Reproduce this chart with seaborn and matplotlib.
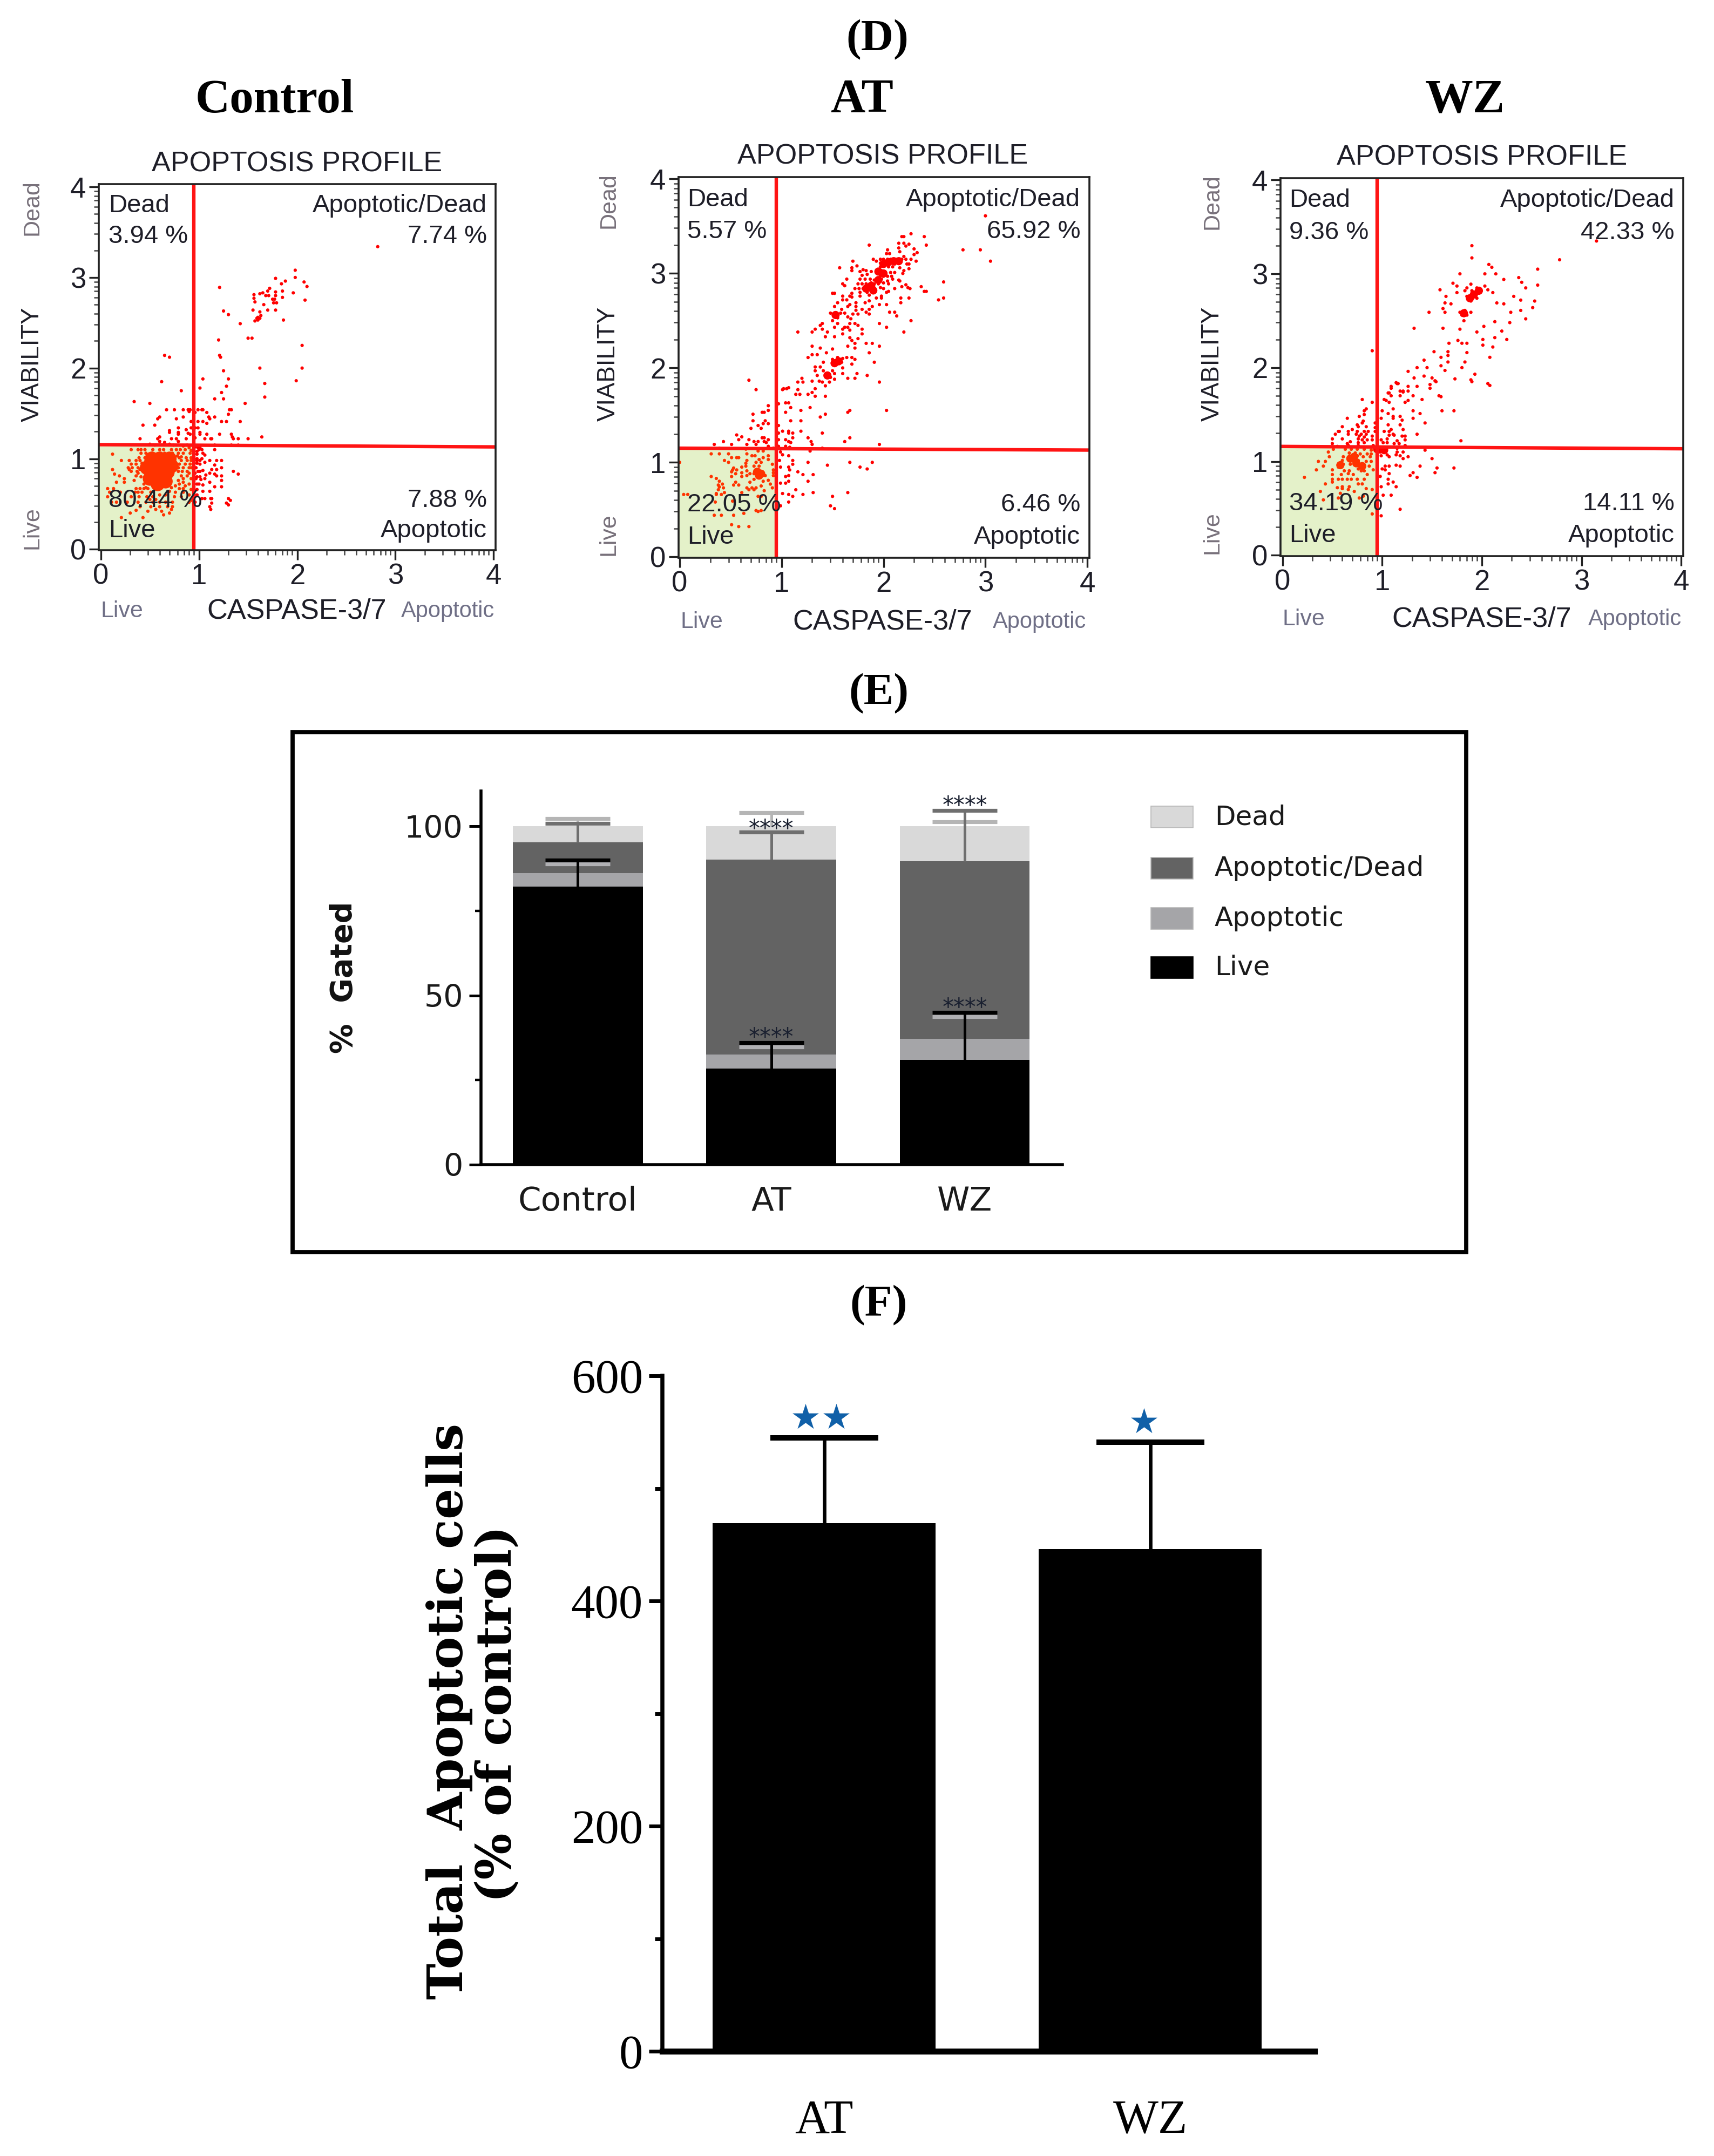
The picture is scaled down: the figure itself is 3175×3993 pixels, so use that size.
#!/usr/bin/env python
# -*- coding: utf-8 -*-

import numpy as np
import matplotlib
matplotlib.use('Agg')
import matplotlib.pyplot as plt
from matplotlib.patches import Rectangle
import seaborn as sns

W, H = 3175, 3993

# ==================== scatter data (caspase, viability) ====================
control_pts = [
    (2.82,3.34),(1.21,2.89),(1.25,2.63),(1.30,2.59),(1.42,2.49),(1.50,2.33),(1.54,2.33),(1.20,2.31),(1.22,2.12),
    (1.57,2.52),(1.59,2.55),(1.60,2.56),(1.62,2.55),(1.63,2.58),(1.60,2.53),(1.55,2.64),(1.62,2.62),(1.56,2.77),
    (1.56,2.81),(1.57,2.73),(1.62,2.82),(1.65,2.83),(1.68,2.80),(1.70,2.85),(1.71,2.80),(1.72,2.88),(1.75,2.76),
    (1.77,2.76),(1.78,2.80),(1.78,2.84),(1.79,2.72),(1.76,2.72),(1.78,2.99),(1.70,2.64),(1.66,2.70),(1.78,2.64),
    (1.85,2.78),(1.85,2.85),(1.84,2.93),(1.88,2.96),(1.86,2.53),(1.96,2.83),(1.98,3.08),(1.98,3.00),(2.07,2.95),
    (2.08,2.75),(2.10,2.90),(2.05,2.25),(2.05,2.00),(1.99,1.86),
    (0.65,2.14),(0.70,2.12),(1.21,2.14),(1.62,2.00),(1.25,1.97),(0.62,1.85),(1.04,1.88),(1.30,1.88),(1.67,1.83),
    (1.28,1.80),(1.01,1.78),(0.82,1.75),(1.23,1.73),(1.16,1.66),(1.25,1.66),(1.67,1.68),(0.34,1.63),(0.50,1.61),
    (1.47,1.61),(0.67,1.54),(0.75,1.54),(0.84,1.54),(0.89,1.54),(0.91,1.54),(0.99,1.54),(1.03,1.54),(1.04,1.54),
    (1.31,1.54),(1.33,1.54),(0.90,1.52),(0.96,1.51),(1.08,1.51),(1.30,1.49),(0.60,1.46),(0.58,1.44),(0.77,1.44),
    (0.84,1.46),(1.10,1.46),(1.11,1.44),(1.16,1.46),(0.92,1.41),(0.99,1.41),(1.04,1.41),(1.08,1.39),(1.23,1.41),
    (1.28,1.41),(1.42,1.41),(0.43,1.37),(0.55,1.37),(0.79,1.34),(0.92,1.34),(0.96,1.34),(0.99,1.34),(0.70,1.31),
    (0.70,1.29),(0.79,1.29),(0.79,1.27),(0.87,1.32),(0.89,1.28),(0.91,1.27),(1.01,1.29),(1.01,1.27),(1.08,1.27),
    (1.21,1.27),(1.33,1.27),(1.34,1.24),(1.64,1.24),(0.60,1.24),(0.58,1.22),(0.40,1.22),(0.72,1.22),(0.77,1.22),
    (0.87,1.22),(0.96,1.23),(1.06,1.22),(1.12,1.22),(1.13,1.22),(1.35,1.22),(1.40,1.22),(1.50,1.22),(0.60,1.19),
    (0.65,1.18),(0.79,1.19),(1.16,1.15),(1.33,1.15),(1.40,1.15),(1.16,1.10),(0.99,1.12),(1.01,1.12),(0.96,1.13),
    (1.04,1.06),(1.06,1.04),(0.98,1.05),(1.11,0.98),(1.18,0.98),(1.23,0.98),(1.16,0.93),(1.23,0.90),(1.18,0.88),
    (1.13,0.88),(1.11,0.84),(1.16,0.83),(1.18,0.81),(1.35,0.86),(1.40,0.83),(1.23,0.81),(1.23,0.76),(1.23,0.69),
    (1.16,0.69),(1.11,0.74),(1.04,0.71),(1.04,0.64),(1.11,0.64),(1.06,0.56),(1.13,0.56),(1.30,0.56),(1.28,0.51),
    (1.13,0.51),(1.11,0.47),(0.98,1.00),(0.98,0.98),(0.98,0.95),(1.01,0.98),(1.03,1.00),(1.06,0.96),(1.01,0.94),
    (1.04,0.87),(1.01,0.86),(1.07,0.82),(1.06,0.78),(1.01,0.80),(0.97,0.78),(0.98,0.80),(1.02,0.77),
    (0.31,1.10),(0.12,1.05),(0.21,0.98),(0.29,0.98),(0.12,0.88),(0.14,0.83),(0.19,0.81),(0.24,0.78),(0.16,0.74),
    (0.24,0.74),(0.29,0.88),
    (0.38,1.10),(0.41,1.10),(0.45,1.10),(0.53,1.10),(0.60,1.10),(0.64,1.10),(0.72,1.10),(0.77,1.10),(0.81,1.10),(0.86,1.10),
    (0.41,1.06),(0.46,1.06),(0.52,1.06),(0.61,1.06),(0.65,1.06),(0.73,1.06),(0.79,1.06),(0.84,1.06),(0.91,1.06),
    (0.39,1.01),(0.45,1.01),(0.80,1.01),(0.87,1.01),(0.92,1.01),(0.36,0.98),(0.40,0.98),(0.46,0.98),(0.82,0.98),(0.88,0.98),
    (0.31,0.94),(0.36,0.94),(0.80,0.94),(0.86,0.94),(0.91,0.94),(0.28,0.90),(0.32,0.90),(0.38,0.90),(0.46,0.90),(0.79,0.90),
    (0.84,0.90),(0.90,0.90),(0.31,0.86),(0.37,0.86),(0.43,0.86),(0.79,0.86),(0.83,0.86),(0.88,0.86),(0.36,0.81),(0.82,0.81),
    (0.88,0.81),(0.34,0.76),(0.79,0.76),(0.07,0.67),(0.13,0.67),(0.36,0.67),(0.40,0.67),(0.44,0.67),(0.48,0.67),(0.80,0.67),
    (0.84,0.67),(0.09,0.63),(0.20,0.63),(0.35,0.63),(0.38,0.63),(0.42,0.63),(0.51,0.63),(0.76,0.63),(0.84,0.63),(0.07,0.58),
    (0.31,0.58),(0.39,0.58),(0.47,0.58),(0.53,0.58),(0.75,0.58),(0.82,0.58),(0.11,0.52),(0.16,0.52),(0.27,0.52),(0.38,0.52),
    (0.46,0.52),(0.53,0.52),(0.60,0.52),(0.73,0.52),(0.90,0.52),(0.40,0.47),(0.51,0.47),(0.60,0.47),(0.73,0.47),
    (0.43,0.35),(0.64,0.38),(0.21,0.35),(0.72,0.44),(1.12,0.44),(1.30,0.49),(1.32,0.54),(1.03,0.56),(1.12,0.56),
    (0.48,1.03),(0.50,1.00),(0.55,1.03),(0.42,0.95),(0.44,0.92),(0.40,0.88),(0.38,0.84),(0.41,0.80),(0.44,0.72),(0.46,0.68),
    (0.72,0.68),(0.76,0.70),(0.80,0.72),(0.84,0.74),(0.84,0.78),(0.86,0.70),(0.74,1.03),(0.78,1.03),(0.82,1.02),(0.70,0.64),
    (0.66,0.60),(0.60,0.60),(0.56,0.55),(0.50,0.55),(0.66,0.52),(0.68,0.47),(0.56,0.44),(0.48,0.42),(0.62,0.42),(0.70,0.40),
    (0.36,0.43),(0.30,0.40),(0.92,1.09),(0.90,1.12),(0.94,1.10),(0.92,0.98),(0.92,0.90),(0.90,0.84),(0.92,0.78),(0.90,0.72),
    (0.92,0.66),(0.90,0.60),(0.92,0.54),(0.98,0.72),(0.98,0.66),(0.98,0.60),(0.96,0.52),(0.98,1.08),(1.00,1.10),(1.03,1.10),
    (0.97,0.90),(0.99,0.86),(0.96,0.84),(1.00,0.72),(0.84,1.14),(0.88,1.15),(0.70,1.16),(0.74,1.15),(0.55,1.15),(0.50,1.16),
]
# the solid centre of the Control cloud
control_core = [
    (0.60,0.88),(0.52,0.85),(0.68,0.85),(0.55,0.95),(0.65,0.95),(0.60,1.00),(0.50,0.78),(0.66,0.75),(0.72,0.92),
    (0.47,0.90),(0.60,0.76),(0.70,1.00),(0.52,1.00),(0.58,0.72),
]

at_pts = [
    (2.27,3.42),(2.18,3.39),(2.20,3.39),(2.40,3.39),(2.42,3.30),(1.86,3.30),(2.15,3.32),(2.20,3.32),(2.25,3.31),(2.15,3.27),
    (2.22,3.29),(2.16,3.23),(2.30,3.26),(2.33,3.22),(2.30,3.20),(2.78,3.25),(2.95,3.25),(3.05,3.13),(3.00,3.61),(2.04,3.25),
    (2.03,3.21),(2.06,3.21),(1.90,3.15),(1.93,3.13),(1.97,3.15),(2.00,3.15),(2.04,3.15),(2.07,3.15),(2.12,3.15),(2.18,3.15),
    (2.20,3.18),(2.22,3.15),(2.27,3.15),(2.32,3.13),(1.97,3.11),(2.00,3.11),(2.04,3.11),(2.07,3.11),(2.11,3.10),(2.14,3.11),
    (2.17,3.12),(2.23,3.10),(2.25,3.10),(1.97,3.07),(2.05,3.07),(2.09,3.07),(2.16,3.06),(2.25,3.05),(1.70,3.13),(1.74,3.08),
    (1.57,3.06),(1.69,3.06),(1.69,3.03),(1.77,3.02),(1.80,3.04),(1.83,3.03),(1.88,3.02),(1.95,3.03),(1.98,3.03),(2.02,3.01),
    (2.07,3.01),(2.11,3.01),(2.20,3.03),(2.19,3.00),(1.79,2.98),(1.84,2.99),(1.97,2.98),(2.00,2.97),(2.04,2.97),(2.08,2.97),
    (1.77,2.94),(1.82,2.94),(1.87,2.94),(1.91,2.93),(1.95,2.93),(1.98,2.94),(2.04,2.92),(2.09,2.94),(2.15,2.93),(2.16,2.92),
    (1.64,2.94),(1.60,2.89),(1.62,2.87),(1.75,2.89),(1.79,2.89),(1.83,2.89),(1.88,2.90),(1.91,2.89),(1.95,2.89),(2.00,2.90),
    (2.05,2.89),(1.72,2.84),(1.76,2.84),(1.80,2.84),(1.84,2.85),(1.88,2.85),(1.91,2.84),(1.97,2.85),(2.00,2.84),(2.11,2.84),
    (2.18,2.86),(2.22,2.88),(2.24,2.85),(2.26,2.84),(2.37,2.86),(2.59,2.91),(1.77,2.80),(1.77,2.76),(1.84,2.80),(1.88,2.81),
    (1.86,2.77),(1.91,2.83),(2.03,2.80),(2.05,2.81),(2.40,2.81),(2.42,2.81),(1.50,2.79),(1.52,2.79),(1.69,2.79),(1.67,2.76),
    (1.69,2.75),(1.60,2.76),(1.93,2.74),(1.98,2.76),(1.98,2.74),(2.17,2.74),(2.25,2.74),(2.59,2.74),(2.54,2.72),(2.17,2.69),
    (1.60,2.72),(1.64,2.72),(1.55,2.69),(1.73,2.69),(1.82,2.69),(1.86,2.71),(1.96,2.67),(2.03,2.67),(1.52,2.65),(1.67,2.67),
    (1.65,2.65),(1.73,2.65),(1.73,2.61),(1.89,2.65),(1.86,2.62),(1.79,2.62),(1.48,2.58),(1.51,2.57),(1.54,2.56),(1.58,2.58),
    (1.55,2.53),(1.59,2.62),(1.62,2.58),(1.65,2.54),(1.68,2.52),(1.70,2.57),(1.75,2.57),(1.83,2.59),(1.86,2.57),(2.06,2.59),
    (2.11,2.59),(2.13,2.55),(1.50,2.50),(1.55,2.47),(1.67,2.47),(1.72,2.47),(1.75,2.45),(1.96,2.47),(2.27,2.50),(2.03,2.43),
    (1.40,2.47),(1.38,2.45),(1.52,2.43),(1.40,2.41),(1.33,2.41),(1.30,2.38),(1.16,2.38),(1.45,2.38),(1.43,2.33),(1.52,2.33),
    (1.62,2.43),(1.60,2.41),(1.65,2.43),(1.67,2.40),(1.60,2.36),(1.79,2.41),(1.79,2.36),(1.67,2.32),(1.69,2.29),(1.75,2.31),
    (1.72,2.26),(1.83,2.26),(1.89,2.26),(1.96,2.23),(1.65,2.23),(2.20,2.38),(1.30,2.23),(1.38,2.21),(1.50,2.20),(1.72,2.21),
    (1.44,2.16),(1.86,2.16),(1.30,2.14),(1.35,2.14),(1.26,2.11),(1.50,2.09),(1.55,2.11),(1.60,2.10),(1.64,2.11),(1.69,2.11),
    (1.72,2.09),(1.41,2.06),(1.91,2.06),(1.52,2.05),(1.56,2.05),(1.59,2.06),(1.60,2.00),(1.69,2.04),(1.33,2.01),(1.38,2.01),
    (1.33,1.97),(1.41,1.97),(1.50,1.97),(1.44,1.94),(1.46,1.94),(1.52,1.94),(1.60,1.94),(1.35,1.92),(1.74,1.94),(1.84,1.92),
    (1.45,1.91),(1.48,1.90),(1.52,1.88),(1.65,1.89),(1.72,1.89),(1.20,1.89),(1.96,1.85),(1.16,1.85),(1.21,1.85),(1.30,1.86),
    (1.37,1.86),(1.40,1.85),(1.43,1.81),(1.47,1.85),(1.33,1.78),(1.16,1.77),(1.05,1.78),(1.02,1.78),(1.30,1.74),(1.14,1.72),
    (1.18,1.72),(1.26,1.72),(1.43,1.70),(1.33,1.70),
    (0.68,1.87),(0.75,1.77),(1.01,1.77),(1.07,1.79),(0.97,1.62),(0.87,1.60),(1.09,1.58),(1.28,1.58),(0.87,1.55),(1.19,1.55),
    (1.04,1.63),(1.07,1.63),(1.04,1.53),(0.81,1.53),(0.83,1.53),(0.72,1.51),(1.67,1.55),(1.65,1.53),(2.03,1.55),(1.43,1.51),
    (1.38,1.48),(0.72,1.44),(0.84,1.44),(1.09,1.44),(1.19,1.44),(0.82,1.41),(0.87,1.41),(0.77,1.39),(0.97,1.39),(0.80,1.36),
    (0.70,1.36),(1.01,1.33),(1.07,1.33),(1.19,1.33),(1.07,1.31),(0.97,1.31),(1.11,1.31),(1.40,1.31),(0.56,1.29),(0.61,1.27),
    (0.58,1.24),(1.11,1.26),(1.26,1.26),(1.67,1.26),(0.81,1.26),(0.83,1.26),(0.68,1.24),(0.87,1.24),(0.97,1.24),(0.83,1.22),
    (0.85,1.21),(1.04,1.24),(1.07,1.22),(1.09,1.21),(1.62,1.22),(1.29,1.22),(0.43,1.22),(0.73,1.22),(0.77,1.22),(1.30,1.19),
    (0.34,1.19),(0.51,1.19),(0.66,1.19),(0.75,1.19),(0.87,1.17),(0.92,1.15),(0.97,1.17),(1.04,1.17),(1.08,1.16),(1.40,1.15),
    (1.96,1.19),(0.39,1.15),(0.65,1.14),(1.28,1.12),(0.77,1.12),(0.82,1.12),(0.31,1.09),(0.39,1.09),(0.48,1.09),(0.66,1.09),
    (0.71,1.07),(0.74,1.07),(0.99,1.11),(1.01,1.08),(1.07,1.07),(0.87,1.07),(0.51,1.05),(0.56,1.05),(0.58,1.05),(0.82,1.05),
    (0.78,1.03),(0.87,1.03),(0.44,1.02),(0.66,1.02),(0.98,1.02),(1.11,1.02),(0.00,1.00),(0.48,1.00),(1.26,1.00),(1.67,1.00),
    (1.89,1.00),(0.65,0.99),(0.75,1.00),(0.80,1.00),(0.91,0.98),(1.11,0.98),(1.45,0.97),(0.65,0.96),(0.73,0.96),(0.78,0.96),
    (0.99,0.95),(1.07,0.95),(1.77,0.95),(1.84,0.93),(0.53,0.94),(0.61,0.95),(0.52,0.92),(0.56,0.92),(0.66,0.91),(0.78,0.92),
    (0.92,0.92),(1.08,0.92),(1.16,0.90),(0.51,0.90),(0.55,0.88),(0.61,0.89),(0.69,0.88),(0.73,0.88),(0.76,0.88),(0.80,0.86),
    (0.76,0.85),(0.84,0.86),(0.92,0.89),(1.21,0.87),(1.31,0.87),(0.31,0.85),(0.51,0.85),(0.61,0.85),(0.66,0.86),(1.07,0.86),
    (1.04,0.85),(0.92,0.86),(0.36,0.83),(0.73,0.82),(0.82,0.80),(0.87,0.81),(0.89,0.77),(1.26,0.80),(1.07,0.80),(0.39,0.80),
    (0.55,0.79),(0.69,0.79),(0.99,0.78),(1.04,0.78),(0.38,0.76),(0.42,0.77),(0.53,0.76),(0.58,0.76),(0.80,0.75),(0.43,0.73),
    (0.39,0.74),(0.66,0.73),(0.71,0.73),(0.75,0.73),(0.91,0.73),(1.14,0.71),(0.38,0.71),(0.68,0.71),(0.73,0.71),(0.83,0.70),
    (1.31,0.68),(1.65,0.68),(0.36,0.67),(0.44,0.68),(0.61,0.68),(1.01,0.67),(1.21,0.66),(0.04,0.66),(0.08,0.66),(0.36,0.66),
    (0.41,0.66),(1.07,0.66),(1.50,0.64),(1.11,0.64),(0.77,0.64),(0.80,0.64),(1.07,0.58),(0.35,0.58),(0.52,0.59),(1.48,0.54),
    (1.52,0.51),(0.99,0.54),(0.77,0.48),(0.75,0.49),(0.80,0.49),(0.63,0.46),(0.34,0.44),(0.41,0.44),(0.53,0.44),(0.51,0.34),
    (0.58,0.32),(0.68,0.32),
]
at_core = [
    (2.05,3.12),(2.10,3.13),(2.00,3.10),(2.15,3.13),(1.95,3.02),(2.00,3.00),(1.88,2.87),(1.95,2.93),(1.83,2.84),(1.90,2.82),
    (1.56,2.07),(1.52,2.05),(1.53,2.56),(1.45,1.92),(0.78,0.86),(0.80,0.88),(0.76,0.90),
]

wz_pts = [
    (3.15,3.35),(1.90,3.30),(1.90,3.17),(2.78,3.15),(2.56,3.05),(2.07,3.10),(2.10,3.07),(2.14,3.00),(2.03,3.00),(1.78,3.00),
    (2.37,2.96),(2.40,2.91),(2.22,2.94),(2.44,2.85),(2.56,2.88),(1.71,2.90),(1.75,2.87),(1.58,2.83),(1.85,2.85),(1.89,2.89),
    (1.95,2.85),(2.03,2.87),(2.06,2.83),(2.11,2.80),(1.83,2.82),(1.90,2.82),(1.97,2.80),(1.85,2.76),(1.92,2.76),(1.95,2.74),
    (1.89,2.71),(1.64,2.76),(1.75,2.80),(2.32,2.76),(2.39,2.72),(2.15,2.69),(2.22,2.68),(2.53,2.71),(1.63,2.69),(1.69,2.68),
    (1.61,2.63),(2.51,2.64),(2.39,2.61),(1.47,2.59),(1.63,2.59),(1.78,2.59),(1.83,2.61),(1.89,2.59),(1.80,2.56),(1.85,2.56),
    (1.82,2.50),(2.29,2.59),(2.13,2.49),(2.44,2.52),(2.28,2.48),(1.32,2.42),(1.61,2.42),(1.78,2.41),(2.02,2.44),(2.20,2.39),
    (1.95,2.38),(2.13,2.32),(2.25,2.30),(1.67,2.26),(1.76,2.29),(1.80,2.26),(1.85,2.26),(2.01,2.30),(2.01,2.24),(2.11,2.22),
    (1.52,2.17),(1.66,2.17),(1.85,2.16),(2.08,2.11),(1.59,2.11),(1.42,2.08),(1.66,2.13),(1.66,2.06),(1.83,2.06),(1.35,2.00),
    (1.45,2.00),(1.59,2.02),(1.80,2.00),(1.63,1.97),(1.26,1.96),(1.42,1.91),(1.32,1.89),(1.50,1.89),(1.93,1.93),(1.73,1.88),
    (1.54,1.85),(1.90,1.85),(2.08,1.81),(1.15,1.83),(1.09,1.78),(1.21,1.74),(1.59,1.69),(1.26,1.65),(1.07,1.73),(0.90,2.18),
    (2.06,1.83),(1.89,1.87),(1.09,1.80),(1.14,1.84),(1.16,1.83),(1.26,1.80),(1.35,1.80),(1.48,1.82),(1.53,1.86),(1.48,1.78),
    (1.18,1.75),(1.21,1.75),(1.26,1.75),(1.06,1.73),(1.09,1.70),(1.18,1.70),(1.31,1.70),(1.57,1.70),(0.80,1.66),(0.90,1.63),
    (1.02,1.66),(1.04,1.65),(1.07,1.63),(1.23,1.63),(1.40,1.66),(1.11,1.56),(0.84,1.56),(0.82,1.54),(1.00,1.54),(1.31,1.54),
    (1.60,1.54),(1.72,1.54),(0.82,1.50),(1.06,1.51),(1.38,1.51),(0.77,1.48),(1.11,1.48),(1.18,1.48),(0.65,1.46),(0.99,1.46),
    (1.11,1.46),(1.31,1.46),(1.20,1.44),(0.81,1.43),(1.43,1.41),(0.93,1.41),(0.80,1.41),(1.06,1.39),(1.18,1.39),(0.75,1.39),
    (0.60,1.37),(0.76,1.37),(0.84,1.37),(0.93,1.36),(0.70,1.34),(1.09,1.34),(1.21,1.34),(0.56,1.32),(0.57,1.32),(0.66,1.32),
    (0.75,1.32),(0.82,1.32),(0.86,1.32),(0.93,1.32),(1.02,1.32),(1.07,1.32),(0.53,1.29),(0.66,1.29),(0.74,1.29),(0.79,1.29),
    (0.84,1.29),(1.11,1.29),(1.35,1.29),(0.77,1.27),(0.82,1.26),(0.90,1.27),(1.07,1.28),(1.12,1.28),(1.20,1.27),(1.23,1.27),
    (0.50,1.24),(0.60,1.24),(0.76,1.24),(0.80,1.23),(0.85,1.23),(0.90,1.23),(0.99,1.23),(1.05,1.24),(1.23,1.23),(1.79,1.22),
    (0.68,1.21),(0.65,1.19),(0.76,1.20),(0.82,1.20),(1.15,1.22),(1.01,1.20),(1.05,1.20),(1.12,1.19),(1.17,1.19),(1.23,1.17),
    (0.50,1.19),(0.55,1.16),(0.66,1.17),(0.76,1.17),(0.91,1.17),(1.01,1.15),(1.04,1.13),(1.15,1.14),(0.51,1.13),(0.63,1.13),
    (0.69,1.13),(0.75,1.13),(0.82,1.13),(0.89,1.12),(1.43,1.12),(0.98,1.10),(1.15,1.10),(1.21,1.10),(0.46,1.10),(0.67,1.09),
    (0.73,1.09),(0.78,1.08),(0.85,1.08),(0.89,1.08),(1.05,1.07),(1.14,1.07),(0.47,1.05),(0.61,1.05),(0.69,1.05),(0.75,1.06),
    (0.81,1.05),(0.88,1.05),(0.99,1.06),(1.07,1.05),(1.18,1.06),(1.26,1.05),(1.21,1.03),(1.50,1.03),(0.36,1.00),(0.43,1.00),
    (0.60,1.01),(0.71,1.01),(0.76,1.01),(0.84,1.00),(0.89,1.00),(0.41,0.95),(0.57,0.97),(0.61,0.97),(0.68,0.97),(0.75,0.96),
    (0.79,0.95),(0.87,0.95),(1.03,0.95),(1.07,0.95),(1.14,0.96),(1.18,0.95),(1.38,0.95),(0.56,0.94),(0.59,0.94),(0.76,0.92),
    (0.79,0.90),(0.82,0.90),(1.00,0.92),(1.03,0.91),(1.55,0.93),(1.72,0.93),(0.34,0.91),(0.50,0.91),(0.62,0.90),(0.67,0.90),
    (0.91,0.91),(1.31,0.88),(1.53,0.88),(1.07,0.87),(0.50,0.86),(0.59,0.86),(0.66,0.87),(0.71,0.86),(0.85,0.86),(1.28,0.85),
    (0.98,0.84),(0.22,0.83),(1.35,0.83),(0.50,0.81),(0.56,0.81),(0.60,0.81),(0.65,0.81),(0.69,0.81),(0.75,0.81),(0.82,0.81),
    (1.06,0.81),(0.50,0.78),(0.76,0.76),(0.80,0.76),(1.11,0.78),(0.43,0.76),(1.06,0.76),(0.67,0.73),(0.60,0.73),(0.55,0.72),
    (1.14,0.73),(0.99,0.73),(0.84,0.71),(0.90,0.70),(0.60,0.71),(0.66,0.70),(0.38,0.68),(0.72,0.68),(0.58,0.66),(1.01,0.64),
    (1.09,0.64),(0.77,0.61),(0.81,0.63),(0.41,0.59),(0.56,0.61),(1.18,0.49),(0.90,0.44),(0.99,0.42),
]
wz_core = [
    (1.92,2.78),(1.97,2.82),(1.88,2.74),(1.82,2.58),(0.74,0.98),(0.80,0.95),(0.72,1.05),(0.68,1.03),(0.58,0.96),(0.95,1.13),
    (1.02,1.12),
]

quad_text = {
    'Control': ['3.94 %', '7.74 %', '80.44 %', '7.88 %'],
    'AT': ['5.57 %', '65.92 %', '22.05 %', '6.46 %'],
    'WZ': ['9.36 %', '42.33 %', '34.19 %', '14.11 %'],
}
decade_ticks = [0.30, 0.48, 0.60, 0.70, 0.78, 0.85, 0.90, 0.95]

# ==================== panel E data ====================
groups = ['Control', 'AT', 'WZ']
live = [82.1, 28.4, 30.9]
apoptotic = [4.1, 4.2, 6.2]
apoptotic_dead = [9.1, 57.5, 52.5]
dead = [4.7, 9.9, 10.4]
live_cap = [90.0, 36.1, 45.0]
apoptotic_cap = [88.8, 34.8, 43.7]
apoptotic_dead_cap = [100.9, 98.2, 104.7]
dead_cap = [102.2, 104.0, 101.3]
stage_names = ['Dead', 'Apoptotic/Dead', 'Apoptotic', 'Live']
stage_colors = ['#d9d9d9', '#636363', '#a5a5a8', '#000000']

# ==================== panel F data ====================
f_groups = ['AT', 'WZ']
f_values = [469, 446]
f_caps = [545, 541]
f_star_x = [-0.057, 0.037, 0.981]
f_star_y = [563, 563, 559]

sns.set_theme(style='ticks')
plt.rcParams['font.family'] = ['Liberation Sans', 'DejaVu Sans']
INK = '#1e1e28'
SERIF = 'Liberation Serif'

fig = plt.figure(figsize=(W / 200, H / 200), dpi=200, facecolor='white')


def px_axes(left, top, right, bottom):
    return fig.add_axes([left / W, 1 - bottom / H, (right - left) / W, (bottom - top) / H])


def put(x, y, s, **kw):
    kw.setdefault('ha', 'center')
    kw.setdefault('va', 'center')
    fig.text(x / W, 1 - y / H, s, **kw)


def flow_panel(box, lims, pts, core, vline, hline, texts, t):
    ax = px_axes(*box)
    ax.set_xlim(*lims[0])
    ax.set_ylim(*lims[1])
    ax.add_patch(Rectangle((lims[0][0], lims[1][0]), vline - lims[0][0], hline[0] - lims[1][0],
                           facecolor='#e4f1c9', edgecolor='none', zorder=0))
    palette = {True: '#ff3300', False: '#ff0000'}
    for group, size in ((pts, 5), core):
        arr = np.array(group)
        gate = (arr[:, 0] < vline) & (arr[:, 1] < hline[0])
        sns.scatterplot(x=arr[:, 0], y=arr[:, 1], hue=gate, palette=palette, hue_order=[True, False],
                        s=size, linewidth=0, legend=False, ax=ax, zorder=2, clip_on=False)
    ax.axvline(vline, color='#ff1414', lw=2.3, zorder=3)
    ax.plot(lims[0], hline, color='#ff1414', lw=2.3, zorder=3)
    for sp in ax.spines.values():
        sp.set_linewidth(1.3)
        sp.set_color('#222222')
        sp.set_zorder(5)
    majors = [0, 1, 2, 3, 4]
    minors = [m + d for m in range(4) for d in decade_ticks]
    for axis in (ax.xaxis, ax.yaxis):
        axis.set_ticks(majors)
        axis.set_ticks(minors, minor=True)
    ax.tick_params(which='major', length=6.5, width=1.2, color='#222222', labelsize=19, labelcolor=INK, pad=2)
    ax.tick_params(which='minor', length=3.2, width=0.9, color='#444444')
    put(t['title'][0], t['title'][1], 'APOPTOSIS PROFILE', fontsize=18.8, color=INK)
    put(t['left'], t['rows'][0], 'Dead', ha='left', fontsize=17, color=INK)
    put(t['left'], t['rows'][1], texts[0], ha='left', fontsize=17, color=INK)
    put(t['right'], t['rows'][0], 'Apoptotic/Dead', ha='right', fontsize=17, color=INK)
    put(t['right'], t['rows'][1], texts[1], ha='right', fontsize=17, color=INK)
    put(t['left'], t['rows'][2], texts[2], ha='left', fontsize=17, color=INK)
    put(t['left'], t['rows'][3], 'Live', ha='left', fontsize=17, color=INK)
    put(t['right'], t['rows'][2], texts[3], ha='right', fontsize=17, color=INK)
    put(t['right'], t['rows'][3], 'Apoptotic', ha='right', fontsize=17, color=INK)
    put(t['title'][0], t['xlab'][1], 'CASPASE-3/7', fontsize=18.8, color=INK)
    put(t['xlab'][0], t['xlab'][1], 'Live', fontsize=15.5, color='#6f6f86')
    put(t['xlab'][2], t['xlab'][1], 'Apoptotic', fontsize=15, color='#6f6f86')
    put(t['ylab'][0], t['ylab'][1], 'VIABILITY', rotation=90, fontsize=16.4, color=INK)
    put(t['ylab'][0], t['ylab'][2], 'Dead', rotation=90, fontsize=15.5, color='#77707a')
    put(t['ylab'][0], t['ylab'][3], 'Live', rotation=90, fontsize=15.5, color='#77707a')
    return ax


# ==================== Panel D: three flow plots ====================
put(1625, 74, '(D)', fontsize=30, family=SERIF, fontweight='bold', color='black')
put(509, 186, 'Control', fontsize=32, family=SERIF, fontweight='bold', color='black')
put(1597, 186, 'AT', fontsize=32, family=SERIF, fontweight='bold', color='black')
put(2714, 186, 'WZ', fontsize=32, family=SERIF, fontweight='bold', color='black')

flow_panel((183, 341, 918, 1019), ((-0.02, 4.02), (-0.01, 4.03)), control_pts, (control_core, 90),
           0.95, (1.155, 1.13), quad_text['Control'],
           {'title': (550, 304), 'left': 201, 'right': 902, 'rows': (381, 438, 927, 983),
            'xlab': (226, 1132, 830), 'ylab': (60, 675, 385, 978)})
flow_panel((1257, 328, 2018, 1033), ((-0.01, 4.02), (-0.01, 4.02)), at_pts, (at_core, 30),
           0.95, (1.15, 1.13), quad_text['AT'],
           {'title': (1635, 290), 'left': 1273, 'right': 2001, 'rows': (370, 429, 935, 995),
            'xlab': (1300, 1152, 1926), 'ylab': (1127, 674, 372, 990)})
flow_panel((2372, 330, 3118, 1030), ((-0.02, 4.02), (-0.01, 4.02)), wz_pts, (wz_core, 30),
           0.948, (1.16, 1.135), quad_text['WZ'],
           {'title': (2745, 292), 'left': 2388, 'right': 3102, 'rows': (371, 431, 933, 992),
            'xlab': (2415, 1147, 3029), 'ylab': (2246, 674, 374, 987)})

# ==================== Panel E: stacked bars ====================
put(1628, 1285, '(E)', fontsize=30, family=SERIF, fontweight='bold', color='black')
fig.add_artist(Rectangle((542 / W, 1 - 2319 / H), (2716 - 542) / W, (2319 - 1356) / H,
                         transform=fig.transFigure, fill=False, edgecolor='black', linewidth=2.8))

ax_e = px_axes(891, 1465, 1968, 2157)
live_arr, apop_arr = np.array(live), np.array(apoptotic)
ad_arr, dead_arr = np.array(apoptotic_dead), np.array(dead)
stacks = [live_arr + apop_arr + ad_arr + dead_arr, live_arr + apop_arr + ad_arr, live_arr + apop_arr, live_arr]
for top, color in zip(stacks, stage_colors):
    sns.barplot(x=groups, y=top, color=color, saturation=1, width=0.672, linewidth=0, ax=ax_e, zorder=2)
ax_e.set_xlim(-0.5, 2.505)
ax_e.set_ylim(0, 110.4)

pos = np.arange(3)
bar_err = [
    (stacks[0], dead_cap, '#b5b5b5'),
    (stacks[1], apoptotic_dead_cap, '#6f6f6f'),
    (stacks[2], apoptotic_cap, '#b0b0b3'),
    (stacks[3], live_cap, '#000000'),
]
for top, cap, color in bar_err:
    ax_e.vlines(pos, top, cap, color=color, linewidth=1.8, zorder=4)
    ax_e.plot(pos, cap, linestyle='none', marker='_', markersize=43, markeredgewidth=2.6, color=color, zorder=4)

star_pos = [(1, 99.1), (1, 37.5), (2, 105.9), (2, 46.2)]
for sx, sy in star_pos:
    ax_e.text(sx, sy, '****', ha='center', va='center', fontsize=15, family='DejaVu Sans', color='#1a2030', zorder=5)

sns.despine(ax=ax_e)
for name in ('left', 'bottom'):
    ax_e.spines[name].set_linewidth(2)
    ax_e.spines[name].set_color('black')
ax_e.set_yticks([0, 50, 100])
ax_e.set_yticks([25, 75], minor=True)
ax_e.set_xlabel('')
ax_e.tick_params(axis='y', which='major', length=8, width=1.8, color='black', pad=4, labelsize=20.5, labelcolor='#1a1a1a')
ax_e.tick_params(axis='y', which='minor', length=4, width=1.6, color='black')
ax_e.tick_params(axis='x', length=0, pad=14, labelsize=22, labelcolor='#1a1a1a')
for lab in ax_e.get_xticklabels() + ax_e.get_yticklabels():
    lab.set_fontfamily('DejaVu Sans')
put(637, 1810, '%  Gated', rotation=90, fontsize=20, family='DejaVu Sans', fontweight='bold', color='#111111')

legend_y = [1513, 1608, 1701, 1792]
for name, color, ly in zip(stage_names, stage_colors, legend_y):
    fig.add_artist(Rectangle((2132 / W, 1 - (ly + 20) / H), 78 / W, 40 / H, transform=fig.transFigure,
                             facecolor=color, edgecolor='#b8b8b8' if name != 'Live' else 'black', linewidth=0.6))
    put(2250, ly, name, ha='left', fontsize=18, family='DejaVu Sans', color='#1a1a1a')

# ==================== Panel F: total apoptotic cells ====================
put(1628, 2418, '(F)', fontsize=30, family=SERIF, fontweight='bold', color='black')
ax_f = px_axes(1227, 2548, 2435, 3799)
sns.barplot(x=f_groups, y=f_values, color='black', saturation=1, width=0.684, linewidth=0, ax=ax_f, zorder=2)
ax_f.vlines([0, 1], f_values, f_caps, color='black', linewidth=2.4, zorder=3)
ax_f.plot([0, 1], f_caps, linestyle='none', marker='_', markersize=72, markeredgewidth=3.6, color='black', zorder=3)
ax_f.scatter(f_star_x, f_star_y, marker='*', s=340, color='#1060a8', linewidth=0, zorder=4, clip_on=False)
ax_f.set_xlim(-0.496, 1.504)
ax_f.set_ylim(0, 600)
sns.despine(ax=ax_f)
ax_f.spines['left'].set_linewidth(2.7)
ax_f.spines['bottom'].set_linewidth(4)
ax_f.spines['left'].set_color('black')
ax_f.spines['bottom'].set_color('black')
ax_f.set_yticks([0, 200, 400, 600])
ax_f.set_yticks([100, 300, 500], minor=True)
ax_f.tick_params(axis='y', which='major', length=9, width=2.5, color='black', pad=4, labelsize=32, labelcolor='black')
ax_f.tick_params(axis='y', which='minor', length=5, width=2.5, color='black')
ax_f.tick_params(axis='x', length=0, pad=32, labelsize=32, labelcolor='black')
for lab in ax_f.get_xticklabels() + ax_f.get_yticklabels():
    lab.set_fontfamily(SERIF)
put(833, 3169, 'Total  Apoptotic cells', rotation=90, fontsize=32.5, family='DejaVu Serif', fontweight='bold', color='black')
put(922, 3174, '(% of control)', rotation=90, fontsize=32.5, family='DejaVu Serif', fontweight='bold', color='black')

fig.savefig('out.png', dpi=200, facecolor='white')
plt.close(fig)
